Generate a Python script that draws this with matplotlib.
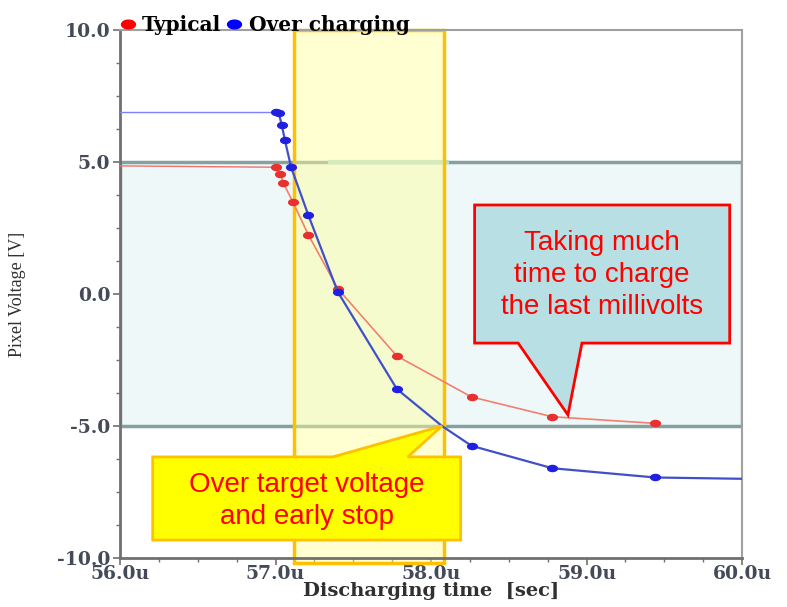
import matplotlib
matplotlib.use("Agg")
import matplotlib.pyplot as plt
import numpy as np
from matplotlib.patches import Rectangle, Polygon
from matplotlib.path import Path
from matplotlib.lines import Line2D

# discharging time [us] and pixel voltage [V]
t_typical = [56.0, 57.0, 57.03, 57.05, 57.11, 57.21, 57.4, 57.78, 58.26, 58.78, 59.44]
v_typical = [4.85, 4.8, 4.55, 4.2, 3.5, 2.25, 0.2, -2.35, -3.9, -4.65, -4.9]

t_over = [56.0, 57.0, 57.02, 57.04, 57.06, 57.1, 57.21, 57.4, 57.78, 58.07, 58.26, 58.78, 59.44, 60.0]
v_over = [6.9, 6.9, 6.86, 6.4, 5.83, 4.8, 3.0, 0.08, -3.6, -5.0, -5.75, -6.6, -6.95, -7.0]
over_marked = [1, 2, 3, 4, 5, 6, 7, 8, 10, 11, 12]

x_ticks = [56.0, 57.0, 58.0, 59.0, 60.0]
y_ticks = [-10.0, -5.0, 0.0, 5.0, 10.0]

# target voltage window and early-stop window
target_band = (-5.0, 5.0)
stop_window = (57.12, 58.08)

# horizontally squashed dot, like the stretched original
circ = Path.unit_circle()
dot = Path(circ.vertices * np.array([1.6, 1.0]), circ.codes)

fig = plt.figure(figsize=(7.87, 6.07), dpi=100)
ax = fig.add_axes([0.1525, 0.0807, 0.7905, 0.87])

ax.set_xlim(56.0, 60.0)
ax.set_ylim(-10.0, 10.0)

# light cyan target band
ax.add_patch(Rectangle((56.0, target_band[0]), 4.0, target_band[1] - target_band[0],
                       facecolor="#eff8f8", edgecolor="#86a0a0", lw=2.5, zorder=1))
ax.plot([57.35, 58.1], [5.0, 5.0], color="#b4dcdc", lw=3, zorder=1.5)

# yellow window
ax.add_patch(Rectangle((stop_window[0], -10.2), stop_window[1] - stop_window[0], 20.2,
                       facecolor="#ffff99", alpha=0.45, edgecolor="none", zorder=2, clip_on=False))
ax.add_patch(Rectangle((stop_window[0], -10.2), stop_window[1] - stop_window[0], 20.2,
                       facecolor="none", edgecolor="#ffc000", lw=2.5, zorder=2.2, clip_on=False))

# curves
ax.plot(t_typical[:2], v_typical[:2], color="#f07070", lw=1, zorder=3)
ax.plot(t_typical[1:], v_typical[1:], color="#f08070", lw=1.2, zorder=3,
        marker=dot, ms=7, mfc="#e83030", mec="#e83030", markevery=range(0, 10))
ax.plot(t_over[:2], v_over[:2], color="#8080ff", lw=1, zorder=4)
ax.plot(t_over[1:], v_over[1:], color="#4050c8", lw=1.6, zorder=4)
ax.plot([t_over[i] for i in over_marked], [v_over[i] for i in over_marked],
        ls="none", marker=dot, ms=7, mfc="#2020e0", mec="#2020e0", zorder=5)

# callout: slow charging
ax.add_patch(Polygon([(58.28, 3.37), (59.92, 3.37), (59.92, -1.86), (58.97, -1.86),
                      (58.88, -4.58), (58.56, -1.86), (58.28, -1.86)],
                     closed=True, facecolor="#b8e0e4", edgecolor="#ff0000", lw=2, zorder=6))
ax.text(59.1, 0.7, "Taking much\ntime to charge\nthe last millivolts", color="#ff0000",
        fontsize=20, family="Liberation Sans", ha="center", va="center",
        linespacing=1.3, zorder=7)

# callout: early stop
ax.add_patch(Polygon([(56.21, -6.17), (57.37, -6.17), (58.07, -5.0), (57.85, -6.17),
                      (58.19, -6.17), (58.19, -9.32), (56.21, -9.32)],
                     closed=True, facecolor="#ffff00", edgecolor="#ffc000", lw=2,
                     zorder=6, clip_on=False))
ax.text(57.2, -7.85, "Over target voltage\nand early stop", color="#ff0000",
        fontsize=20, family="Liberation Sans", ha="center", va="center",
        linespacing=1.3, zorder=7)

# axes styling
for side in ["left", "bottom"]:
    ax.spines[side].set_color("#707070")
    ax.spines[side].set_linewidth(2)
for side in ["top", "right"]:
    ax.spines[side].set_color("#a0a0a0")
    ax.spines[side].set_linewidth(1.5)

ax.set_xticks(x_ticks)
ax.set_xticklabels(["%.1fu" % v for v in x_ticks])
ax.set_yticks(y_ticks)
ax.set_yticklabels(["%.1f" % v for v in y_ticks])
ax.set_xticks(np.arange(56.0, 60.01, 0.25), minor=True)
ax.set_yticks(np.arange(-10.0, 10.01, 1.25), minor=True)
ax.tick_params(which="both", direction="out", color="#707070")
ax.tick_params(which="major", length=5, width=1.2)
ax.tick_params(which="minor", length=3, width=1)
for lab in ax.get_xticklabels() + ax.get_yticklabels():
    lab.set_family("DejaVu Serif")
    lab.set_fontweight("bold")
    lab.set_fontsize(13.5)
    lab.set_color("#444a58")
ax.tick_params(axis="x", pad=0)
ax.tick_params(axis="y", pad=2)

ax.set_xlabel("Discharging time  [sec]", family="DejaVu Serif", fontweight="bold",
              fontsize=14, color="#303030", labelpad=-1)
ax.set_ylabel("Pixel Voltage [V]", family="Liberation Serif", fontsize=13,
              color="#303030", labelpad=22)

handles = [Line2D([], [], ls="none", marker=dot, ms=10, mfc="#ff0000", mec="#ff0000"),
           Line2D([], [], ls="none", marker=dot, ms=10, mfc="#0000ff", mec="#0000ff")]
leg = ax.legend(handles, ["Typical", "Over charging"], loc="lower left",
                bbox_to_anchor=(-0.005, 0.99), ncol=2, frameon=False,
                handlelength=1.1, handletextpad=0.15, columnspacing=0.1,
                borderpad=0, borderaxespad=0,
                prop={"family": "DejaVu Serif", "weight": "bold", "size": 14.5})

fig.savefig("out.png", dpi=100)
